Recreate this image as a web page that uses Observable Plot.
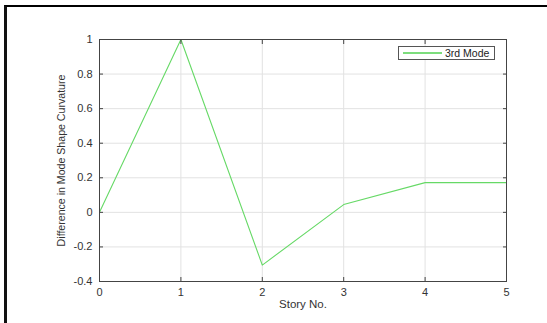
<!DOCTYPE html>
<html>
<head>
<meta charset="utf-8">
<script src="https://cdn.jsdelivr.net/npm/d3@7"></script>
<script src="https://cdn.jsdelivr.net/npm/@observablehq/plot@0.6"></script>
<style>
  html, body { margin: 0; padding: 0; background: #fff; }
  #wrap { position: relative; width: 547px; height: 323px; overflow: hidden; }
  #frameBorder { position: absolute; left: 4px; top: 5px; right: -10px; bottom: -10px;
    border-top: 2px solid #000; border-left: 3px solid #111; }
  #chart { position: absolute; left: 0; top: 0; }
  #legend { position: absolute; left: 398px; top: 46px; width: 97px; height: 14px;
    border: 1px solid #555; background: #fff; font: 10.5px "Liberation Sans", Arial, sans-serif;
    color: #222; box-sizing: border-box; }
  #legend .sw { position: absolute; left: 4px; top: 5px; width: 39px; height: 1.5px; background: #7ddd7d; }
  #legend .tx { position: absolute; left: 46px; top: 0px; line-height: 12px; }
</style>
</head>
<body>
<div id="wrap">
  <div id="frameBorder"></div>
  <div id="chart"></div>
  <div id="legend"><div class="sw"></div><div class="tx">3rd Mode</div></div>
</div>
<script>
const stories = [0, 1, 2, 3, 4, 5];
const curvature = [0, 1, -0.305, 0.045, 0.172, 0.172];
const xTicks = [0, 1, 2, 3, 4, 5];
const yTicks = [-0.4, -0.2, 0, 0.2, 0.4, 0.6, 0.8, 1];
const xLabel = "Story No.";
const yLabel = "Difference in Mode Shape Curvature";
const seriesName = "3rd Mode";

const data = stories.map((s, i) => ({story: s, value: curvature[i]}));
const fmt = d => String(+d.toFixed(1));

const chart = Plot.plot({
  width: 547,
  height: 323,
  marginLeft: 99,
  marginRight: 41,
  marginTop: 39,
  marginBottom: 42,
  style: {fontFamily: "'Liberation Sans', Arial, sans-serif", fontSize: "11px", color: "#333", background: "transparent", overflow: "visible"},
  x: {domain: [0, 5]},
  y: {domain: [-0.4, 1]},
  marks: [
    Plot.gridX(xTicks, {stroke: "#e2e2e2", strokeOpacity: 1}),
    Plot.gridY(yTicks, {stroke: "#e2e2e2", strokeOpacity: 1}),
    Plot.line(data, {x: "story", y: "value", stroke: "#66d966", strokeWidth: 1.1}),
    Plot.frame({stroke: "#444"}),
    Plot.axisX(xTicks, {anchor: "bottom", tickSize: -4, tickPadding: 11, tickFormat: fmt, stroke: "#444", fill: "#333", label: null}),
    Plot.axisX(xTicks, {anchor: "top", tickSize: -4, tickFormat: () => "", stroke: "#444", label: null}),
    Plot.axisY(yTicks, {anchor: "left", tickSize: -4, tickPadding: 11, tickFormat: fmt, stroke: "#444", fill: "#333", label: null}),
    Plot.axisY(yTicks, {anchor: "right", tickSize: -4, tickFormat: () => "", stroke: "#444", label: null}),
    Plot.text([xLabel], {frameAnchor: "bottom", dy: 26, text: d => d, fill: "#333", fontSize: 11.5}),
    Plot.text([yLabel], {frameAnchor: "left", dx: -38, rotate: -90, textAnchor: "middle", text: d => d, fill: "#333", fontSize: 10.6})
  ]
});
document.getElementById("chart").appendChild(chart);
</script>
</body>
</html>
